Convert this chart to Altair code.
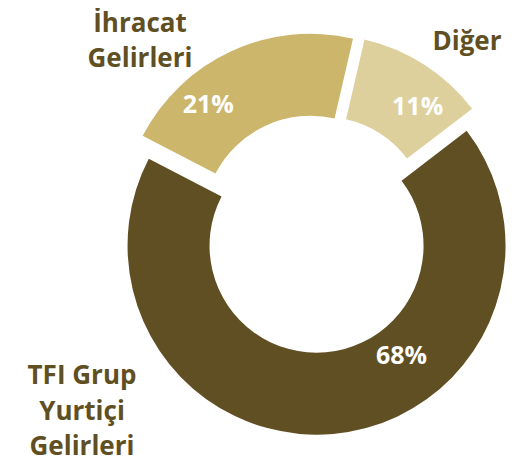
import math
import altair as alt
import pandas as pd

# ---- data ----
categories = ["Diğer", "TFI Grup Yurtiçi Gelirleri", "İhracat Gelirleri"]
values = [11, 68, 21]
label_lines = ["Diğer", "TFI Grup\nYurtiçi\nGelirleri", "İhracat\nGelirleri"]
pct_labels = ["11%", "68%", "21%"]
colors = ["#ded09c", "#5f4f22", "#cbb66b"]

# ---- layout (styles / positions, not data) ----
W, H = 498, 453
CX, CY = 307.5, 225.7          # donut centre
R_OUT, R_IN = 189, 107
EXPLODE = 12                   # slice explosion distance
START = math.radians(13)       # start angle of first slice
pct_angle = [39.3, 142.3, -40.9]      # label angle (deg) within slice frame
pct_radius = [151, 139, 156]
outer_x = [459, 74, 132]
outer_y = [42, 376, 23.5]      # first-line baselines
FONT = "Open Sans"
TEXT_DARK = "#5f4f22"

df = pd.DataFrame({
    "category": categories,
    "value": values,
    "order": list(range(len(categories))),
    "pct": pct_labels,
    "la": [math.radians(a) for a in pct_angle],
    "lr": pct_radius,
})

base = alt.Chart(df).transform_joinaggregate(
    total="sum(value)"
).transform_window(
    cum="sum(value)", sort=[alt.SortField("order")]
).transform_calculate(
    a1=f"{START} + 2*PI*datum.cum/datum.total",
    a0=f"{START} + 2*PI*(datum.cum - datum.value)/datum.total",
).transform_calculate(
    mid="(datum.a0 + datum.a1)/2"
).transform_calculate(
    cx=f"{CX} + {EXPLODE}*sin(datum.mid)",
    cy=f"{CY} - {EXPLODE}*cos(datum.mid)",
).transform_calculate(
    lx="datum.cx + datum.lr*sin(datum.la)",
    ly="datum.cy - datum.lr*cos(datum.la)",
)

arcs = base.mark_arc(innerRadius=R_IN, outerRadius=R_OUT).encode(
    theta=alt.Theta("a0:Q", scale=None),
    theta2="a1:Q",
    x=alt.X("cx:Q", scale=None),
    y=alt.Y("cy:Q", scale=None),
    color=alt.Color("category:N", scale=alt.Scale(domain=categories, range=colors), legend=None),
)

pcts = base.mark_text(
    font=FONT, fontSize=25, fontWeight="bold", color="white",
    align="center", baseline="middle",
).encode(
    x=alt.X("lx:Q", scale=None),
    y=alt.Y("ly:Q", scale=None),
    text="pct:N",
)

lab_df = pd.DataFrame({"label": label_lines, "x": outer_x, "y": outer_y})
outer = alt.Chart(lab_df).mark_text(
    font=FONT, fontSize=26, fontWeight="bold", color=TEXT_DARK,
    align="center", baseline="alphabetic", lineBreak="\n", lineHeight=35.5,
).encode(
    x=alt.X("x:Q", scale=None),
    y=alt.Y("y:Q", scale=None),
    text="label:N",
)

chart = alt.layer(arcs, pcts, outer).properties(
    width=W, height=H, autosize=alt.AutoSizeParams(type="none"), padding=0,
).configure_view(stroke=None)

chart.save("out.html", embed_options={"renderer": "svg", "actions": False})
